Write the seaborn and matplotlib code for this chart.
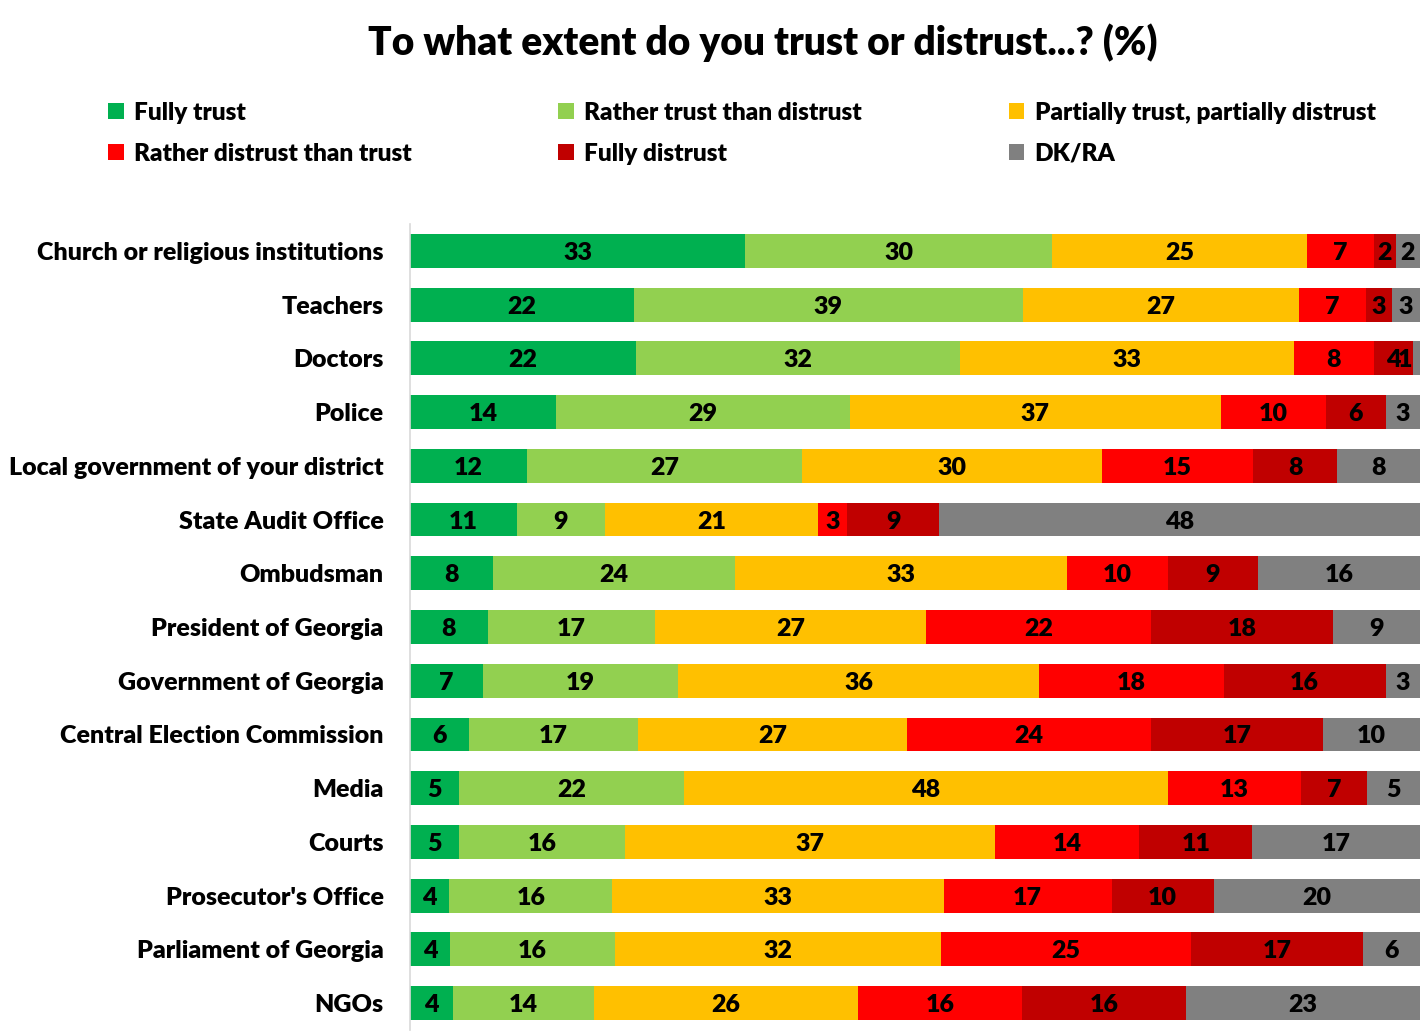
import matplotlib
matplotlib.use("Agg")
import matplotlib.pyplot as plt
from matplotlib.patches import Patch
import numpy as np
import pandas as pd
import seaborn as sns

categories = ["Church or religious institutions", "Teachers", "Doctors", "Police",
              "Local government of your district", "State Audit Office", "Ombudsman",
              "President of Georgia", "Government of Georgia", "Central Election Commission",
              "Media", "Courts", "Prosecutor's Office", "Parliament of Georgia", "NGOs"]

series_names = ["Fully trust", "Rather trust than distrust", "Partially trust, partially distrust",
                "Rather distrust than trust", "Fully distrust", "DK/RA"]

fully_trust      = [33.2, 22.2, 22.4, 14.4, 11.6, 10.6, 8.2, 7.7, 7.2, 5.8, 4.9, 4.9, 3.9, 4.0, 4.3]
rather_trust     = [30.4, 38.6, 32.1, 29.1, 27.2, 8.7, 24.0, 16.6, 19.3, 16.8, 22.2, 16.4, 16.1, 16.3, 13.9]
partially        = [25.2, 27.4, 33.0, 36.6, 29.6, 21.1, 32.8, 26.8, 35.7, 26.6, 47.9, 36.6, 32.8, 32.3, 26.2]
rather_distrust  = [6.6, 6.6, 7.9, 10.4, 15.0, 2.9, 10.0, 22.3, 18.2, 24.2, 13.2, 14.3, 16.6, 24.8, 16.2]
fully_distrust   = [2.2, 2.6, 3.9, 5.9, 8.3, 9.1, 9.0, 18.0, 16.0, 17.0, 6.6, 11.2, 10.1, 17.1, 16.2]
dk_ra            = [2.4, 2.8, 0.7, 3.4, 8.2, 47.6, 16.0, 8.6, 3.4, 9.6, 5.2, 16.6, 20.4, 5.6, 23.2]

colors = ["#00B050", "#92D050", "#FFC000", "#FF0000", "#C00000", "#808080"]

series = [fully_trust, rather_trust, partially, rather_distrust, fully_distrust, dk_ra]

sns.set_theme(style="white")
plt.rcParams["font.family"] = ["Lato", "DejaVu Sans"]
plt.rcParams["font.weight"] = "heavy"

FW = "heavy"
FS = 18

vals = np.array(series, dtype=float)          # shape (6, 15)
totals = vals.sum(axis=0)
shares = vals / totals * 100                  # 100% stacked
cum = np.cumsum(shares, axis=0)
starts = cum - shares

fig = plt.figure(figsize=(14.2, 10.31), dpi=100)
ax = fig.add_axes([410 / 1420, 1 - 1030 / 1031, 1 - 410 / 1420, (1030 - 224) / 1031])

# draw cumulative bars from the last series to the first so earlier segments sit on top
for i in range(len(series) - 1, -1, -1):
    df = pd.DataFrame({"cat": categories, "val": cum[i]})
    sns.barplot(data=df, x="val", y="cat", orient="y", color=colors[i],
                width=0.63, ax=ax, saturation=1, edgecolor="none", linewidth=0)

for i in range(len(series)):
    for j in range(len(categories)):
        xc = starts[i, j] + shares[i, j] / 2
        ha = "center"
        if xc > 99.0:            # too close to the right edge: keep the label inside
            xc, ha = 99.2, "right"
        ax.text(xc, j, f"{round(vals[i, j]):d}",
                ha=ha, va="center_baseline", fontsize=FS, fontweight=FW, color="black")

ax.set_xlim(0, 100)
ax.set_ylim(len(categories) - 0.5, -0.5)
ax.set_xlabel("")
ax.set_ylabel("")
ax.set_xticks([])
ax.tick_params(axis="y", length=0, pad=19, labelsize=FS, labelcolor="black")
for lab in ax.get_yticklabels():
    lab.set_fontweight(FW)
for s in ["top", "right", "bottom"]:
    ax.spines[s].set_visible(False)
ax.spines["left"].set_color("#D9D9D9")
ax.spines["left"].set_linewidth(1.2)

fig.suptitle("To what extent do you trust or distrust...? (%)", x=763 / 1420, y=1 - 43 / 1031,
             va="center", fontsize=28, fontweight=FW, color="black")

handles = [Patch(facecolor=c, edgecolor="none", label=n) for c, n in zip(colors, series_names)]
order = [0, 3, 1, 4, 2, 5]
leg = fig.legend(handles=[handles[k] for k in order], ncol=3, loc="upper left",
                 bbox_to_anchor=(108 / 1420, 1 - 102 / 1031), frameon=False, fontsize=17.6,
                 handlelength=0.64, handleheight=0.64, handletextpad=0.42,
                 columnspacing=6.0, labelspacing=0.76, borderpad=0, borderaxespad=0)
for t in leg.get_texts():
    t.set_fontweight(FW)
    t.set_color("black")

fig.savefig("out.png", dpi=100)
